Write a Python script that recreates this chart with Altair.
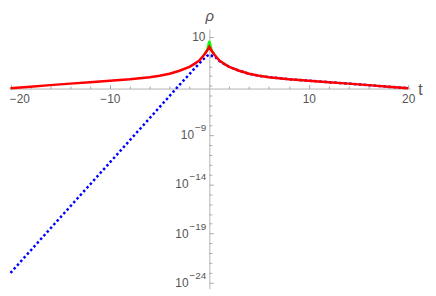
import math
import altair as alt
import pandas as pd

# ---- data ----
t_red = [-20, -18, -16, -14, -12, -10, -8, -6, -5, -4, -3, -2, -1.5, -1, -0.75, -0.5, -0.25, 0,
         0.25, 0.5, 0.75, 1, 1.5, 2, 3, 4, 5, 6, 8, 10, 12, 14, 16, 18, 20]
rho_red = [6.0e-5, 8.5e-5, 1.23e-4, 1.74e-4, 2.45e-4, 3.47e-4, 4.9e-4, 7.8e-4, 1.1e-3, 1.74e-3,
           3.55e-3, 8.9e-3, 1.78e-2, 4.0e-2, 8.0e-2, 0.158, 0.355, 1.0,
           0.355, 0.158, 8.0e-2, 4.0e-2, 1.78e-2, 8.9e-3, 3.55e-3, 1.74e-3, 1.1e-3, 7.8e-4,
           4.9e-4, 3.47e-4, 2.45e-4, 1.74e-4, 1.23e-4, 8.5e-5, 6.0e-5]

t_blue = [-20, -15, -10, -5, -3, -2, -1.5, -1, -0.5, -0.25, 0, 0.25, 0.5, 1, 1.5, 2, 3, 4, 5,
          6, 8, 10, 12, 14, 16, 18, 20]
rho_blue = [1.0e-23, 4.2e-18, 1.7e-12, 7.2e-7, 1.3e-4, 1.6e-3, 6.0e-3, 2.0e-2, 6.5e-2, 0.11, 0.16,
            0.12, 0.11, 3.6e-2, 1.7e-2, 8.9e-3, 3.55e-3, 1.74e-3, 1.1e-3, 7.8e-4, 4.9e-4,
            3.47e-4, 2.45e-4, 1.74e-4, 1.23e-4, 8.5e-5, 6.0e-5]

t_green = [-0.5, -0.2, -0.1, 0, 0.1, 0.2, 0.5]
rho_green = [0.158, 0.5, 1.4, 3.7, 1.4, 0.5, 0.158]

x_major = [-20, -10, 10, 20]
x_minor = [-18, -16, -14, -12, -8, -6, -4, -2, 2, 4, 6, 8, 12, 14, 16, 18]
y_major_exp = [1, -9, -14, -19, -24]
y_label_base = ["10", "10", "10", "10", "10"]
y_label_sup = ["", "−9", "−14", "−19", "−24"]
y_minor_exp = [e for e in range(-23, 1) if e not in y_major_exp]

# ---- layout ----
W, H = 405, 262
x_dom = [-20.15, 20.2]
y_lo_exp, y_hi_exp = -24.6, 1.78
y_dom = [10 ** y_lo_exp, 10 ** y_hi_exp]
axis_cross_exp = -4.26

x0_px = (0 - x_dom[0]) / (x_dom[1] - x_dom[0]) * W
y0_px = (y_hi_exp - axis_cross_exp) / (y_hi_exp - y_lo_exp) * H

AX = "#b3b3b3"
TK = "#a6a6a6"
LBL = "#555555"
FONT = "Liberation Sans"
BASE_FS = 12
SUP_FS = 10

xs = alt.Scale(domain=x_dom, nice=False, zero=False)
ys = alt.Scale(type="log", domain=y_dom, nice=False)

x_label_axis = alt.Axis(orient="bottom", offset=y0_px - H, values=x_major, ticks=False,
                        grid=False, domainColor=AX, domainWidth=1, labelColor=LBL,
                        labelFont=FONT, labelFontSize=12, labelPadding=5, labelFlush=False,
                        labelOffset={"condition": {"test": "datum.value == -20", "value": 9},
                                     "value": 0},
                        title="t", titleX=W + 10, titleY=1, titleAngle=0, titleAlign="center",
                        titleBaseline="middle", titleColor=LBL, titleFont=FONT,
                        titleFontSize=16, titleFontWeight="normal", labelOverlap=False)
y_line_axis = alt.Axis(orient="left", offset=-x0_px, values=[10.0 ** e for e in y_major_exp],
                       ticks=False, labels=False, grid=False, domainColor=AX, domainWidth=1,
                       title="ρ", titleX=0, titleY=-9, titleAngle=0, titleAlign="center",
                       titleBaseline="alphabetic", titleColor=LBL, titleFont=FONT,
                       titleFontSize=15, titleFontWeight="normal", titleFontStyle="italic")

x_major_ticks = alt.Axis(orient="top", offset=-y0_px, values=x_major, ticks=True, tickSize=4,
                         tickColor=TK, labels=False, domain=False, grid=False, title=None)
y_major_ticks = alt.Axis(orient="right", offset=x0_px - W, values=[10.0 ** e for e in y_major_exp],
                         ticks=True, tickSize=4, tickColor=TK, labels=False, domain=False,
                         grid=False, title=None)
x_minor_ticks = alt.Axis(orient="top", offset=-y0_px, values=x_minor, ticks=True, tickSize=2.5,
                         tickColor=TK, labels=False, domain=False, grid=False, title=None)
y_minor_ticks = alt.Axis(orient="right", offset=x0_px - W, values=[10.0 ** e for e in y_minor_exp],
                         ticks=True, tickSize=2.5, tickColor=TK, labels=False, domain=False,
                         grid=False, title=None)

df_green = pd.DataFrame({"t": t_green, "rho": rho_green})
df_blue = pd.DataFrame({"t": t_blue, "rho": rho_blue})
df_red = pd.DataFrame({"t": t_red, "rho": rho_red})

green = alt.Chart(df_green).mark_line(color="#00ff00", strokeWidth=2.5, clip=True).encode(
    x=alt.X("t:Q", scale=xs, axis=x_label_axis),
    y=alt.Y("rho:Q", scale=ys, axis=y_line_axis),
)
blue = alt.Chart(df_blue).mark_line(color="#0000ff", strokeWidth=2.5, strokeDash=[2.5, 2.5],
                                    clip=True).encode(
    x=alt.X("t:Q", scale=xs, axis=x_major_ticks),
    y=alt.Y("rho:Q", scale=ys, axis=y_major_ticks),
)
red = alt.Chart(df_red).mark_line(color="#ff0000", strokeWidth=2.5, clip=True).encode(
    x=alt.X("t:Q", scale=xs, axis=x_minor_ticks),
    y=alt.Y("rho:Q", scale=ys, axis=y_minor_ticks),
)

# y tick labels as base "10" plus a raised, smaller exponent
def sup_width(s):
    return sum(5.85 if ch == "−" else 5.56 for ch in s) * SUP_FS / 10.0

label_layers = []
for e, base, sup in zip(y_major_exp, y_label_base, y_label_sup):
    row = pd.DataFrame({"t": [0.0], "rho": [10.0 ** e], "base": [base], "sup": [sup]})
    sw = sup_width(sup)
    label_layers.append(
        alt.Chart(row).mark_text(align="right", baseline="middle", font=FONT, fontSize=BASE_FS,
                                 color=LBL, dx=-(4 + sw), dy=0).encode(
            x=alt.X("t:Q", scale=xs, axis=None),
            y=alt.Y("rho:Q", scale=ys, axis=None),
            text="base:N",
        )
    )
    if sup:
        label_layers.append(
            alt.Chart(row).mark_text(align="right", baseline="middle", font=FONT,
                                     fontSize=SUP_FS, color=LBL, dx=-3, dy=-7).encode(
                x=alt.X("t:Q", scale=xs, axis=None),
                y=alt.Y("rho:Q", scale=ys, axis=None),
                text="sup:N",
            )
        )

chart = alt.layer(green, blue, red, *label_layers).resolve_axis(
    x="independent", y="independent"
).properties(
    width=W, height=H,
    background="white",
    autosize=alt.AutoSizeParams(type="none"),
    padding={"left": 1, "top": 20, "right": 18, "bottom": 0},
).configure_view(strokeWidth=0, stroke="transparent")

chart.save("out.html", embed_options={"renderer": "svg", "actions": False})
